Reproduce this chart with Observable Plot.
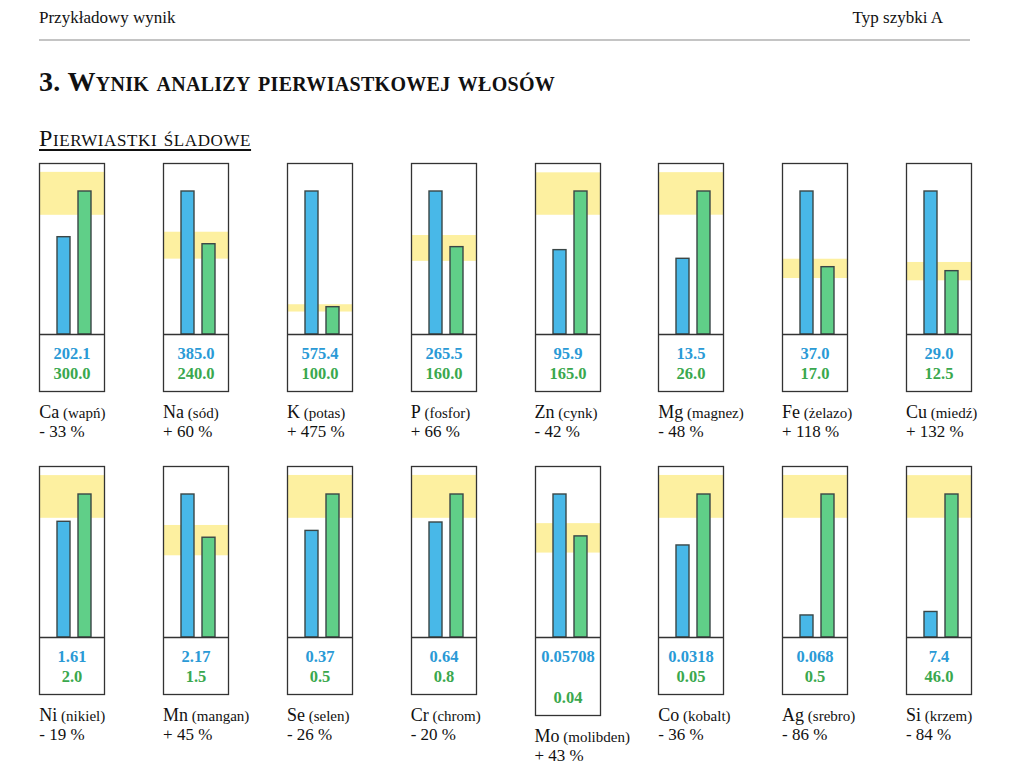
<!DOCTYPE html>
<html lang="pl">
<head>
<meta charset="utf-8">
<script src="https://cdn.jsdelivr.net/npm/d3@7"></script>
<script src="https://cdn.jsdelivr.net/npm/@observablehq/plot@0.6"></script>
<style>
  html, body { margin: 0; padding: 0; background: #fff; }
  body { width: 1018px; height: 767px; position: relative; overflow: hidden;
         font-family: "Liberation Serif", "DejaVu Serif", serif; color: #111; }
  .abs { position: absolute; white-space: nowrap; line-height: 1; }
  .hdr { font-size: 17px; }
  .title { font-size: 28px; font-weight: bold; font-variant: small-caps; letter-spacing: 0.3px; }
  .sub { font-size: 24px; font-variant: small-caps; letter-spacing: 0.6px; text-decoration: underline; text-decoration-thickness: 2px; text-underline-offset: 3px; }
  .sym { font-size: 18px; }
  .nm { font-size: 15px; }
  .pct { font-size: 17px; }
  .panel { position: absolute; }
  .panel svg { overflow: visible; display: block; }
</style>
</head>
<body>
<script>
// ---- data ----
const symbols = ["Ca","Na","K","P","Zn","Mg","Fe","Cu","Ni","Mn","Se","Cr","Mo","Co","Ag","Si"];
const names = ["wapń","sód","potas","fosfor","cynk","magnez","żelazo","miedź","nikiel","mangan","selen","chrom","molibden","kobalt","srebro","krzem"];
const measured = [202.1, 385.0, 575.4, 265.5, 95.9, 13.5, 37.0, 29.0, 1.61, 2.17, 0.37, 0.64, 0.05708, 0.0318, 0.068, 7.4];
const measuredLabels = ["202.1","385.0","575.4","265.5","95.9","13.5","37.0","29.0","1.61","2.17","0.37","0.64","0.05708","0.0318","0.068","7.4"];
const reference = [300.0, 240.0, 100.0, 160.0, 165.0, 26.0, 17.0, 12.5, 2.0, 1.5, 0.5, 0.8, 0.04, 0.05, 0.5, 46.0];
const referenceLabels = ["300.0","240.0","100.0","160.0","165.0","26.0","17.0","12.5","2.0","1.5","0.5","0.8","0.04","0.05","0.5","46.0"];
const normLow  = [249, 199, 80, 133, 137, 21.6, 14.0, 10.5, 1.66, 1.22, 0.415, 0.664, 0.0332, 0.0415, 0.415, 38.2];
const normHigh = [341, 273, 110, 182, 187, 29.5, 19.1, 14.3, 2.27, 1.69, 0.568, 0.909, 0.0452, 0.0568, 0.568, 52.2];
const deviation = ["- 33 %","+ 60 %","+ 475 %","+ 66 %","- 42 %","- 48 %","+ 118 %","+ 132 %","- 19 %","+ 45 %","- 26 %","- 20 %","+ 43 %","- 36 %","- 86 %","- 84 %"];
const seriesKeys = ["zmierzony","referencyjny"];
const seriesFill = ["#48b8e8","#60cf88"];
const seriesText = ["#2a9ad6","#3aa84e"];

// ---- page text ----
const FONT = '"Liberation Serif", "DejaVu Serif", serif';
function addText(cls, txt, left, baseline, fs, opts = {}) {
  const d = document.createElement("div");
  d.className = "abs " + cls;
  d.textContent = txt;
  d.style.top = (baseline - 0.8375 * fs) + "px";
  if (opts.right != null) d.style.right = opts.right + "px"; else d.style.left = left + "px";
  document.body.appendChild(d);
  return d;
}
addText("hdr", "Przykładowy wynik", 39, 23, 17);
addText("hdr", "Typ szybki A", 0, 23, 17, {right: 1018 - 943});
const line = document.createElement("div");
line.className = "abs";
Object.assign(line.style, {left: "39px", top: "39px", width: "931px", height: "2px", background: "#c4c4c4"});
document.body.appendChild(line);
addText("title", "3. Wynik analizy pierwiastkowej włosów", 39, 91, 28);
addText("sub", "Pierwiastki śladowe", 39, 146, 24);

// ---- panels ----
const rowTop = [163, 466];
symbols.forEach((sym, i) => {
  const col = i % 8, row = Math.floor(i / 8);
  const boxLeft = 39.3 + 123.8 * col;
  const boxTop = rowTop[row];
  const tall = measuredLabels[i].length > 6;
  const h = tall ? 251 : 230;
  const max = Math.max(measured[i], reference[i]);
  const bars = [
    {s: seriesKeys[0], v: measured[i]},
    {s: seriesKeys[1], v: reference[i]}
  ];
  const chart = Plot.plot({
    width: 67, height: h,
    marginTop: 1, marginBottom: 1, marginLeft: 1, marginRight: 1,
    style: {fontFamily: FONT, background: "transparent", overflow: "visible"},
    x: {domain: seriesKeys, range: [18.6, 52.3], paddingInner: 0.4, paddingOuter: 0, axis: null},
    y: {domain: [0, max], range: [169, 29], axis: null},
    color: {domain: seriesKeys, range: seriesFill},
    marks: [
      Plot.rect([{lo: normLow[i], hi: normHigh[i]}], {y1: "lo", y2: "hi", fill: "#fdf0a0"}),
      Plot.barY(bars, {x: "s", y: "v", fill: "s", stroke: "#3a4646", strokeWidth: 1.4, insetBottom: -3}),
      Plot.frame({stroke: "#333", strokeWidth: 1.3}),
      Plot.ruleY([0], {dy: 3, stroke: "#333", strokeWidth: 1.3}),
      Plot.text([measuredLabels[i]], {text: d => d, frameAnchor: "top", lineAnchor: "middle", dy: 190, fill: seriesText[0], fontSize: 16.5, fontWeight: "bold"}),
      Plot.text([referenceLabels[i]], {text: d => d, frameAnchor: "top", lineAnchor: "middle", dy: tall ? 231 : 210, fill: seriesText[1], fontSize: 16.5, fontWeight: "bold"})
    ]
  });
  const wrap = document.createElement("div");
  wrap.className = "panel";
  wrap.style.left = (boxLeft - 1) + "px";
  wrap.style.top = (boxTop - 1) + "px";
  wrap.appendChild(chart);
  document.body.appendChild(wrap);

  const boxBottom = boxTop + h - 2;
  const lab = document.createElement("div");
  lab.className = "abs sym";
  lab.style.left = boxLeft + "px";
  lab.style.top = (boxBottom + 27 - 0.8375 * 18) + "px";
  const s1 = document.createElement("span"); s1.textContent = sym;
  const s2 = document.createElement("span"); s2.className = "nm"; s2.textContent = " (" + names[i] + ")";
  lab.appendChild(s1); lab.appendChild(s2);
  document.body.appendChild(lab);
  addText("pct", deviation[i], boxLeft, boxBottom + 46.5, 17);
});
</script>
</body>
</html>
